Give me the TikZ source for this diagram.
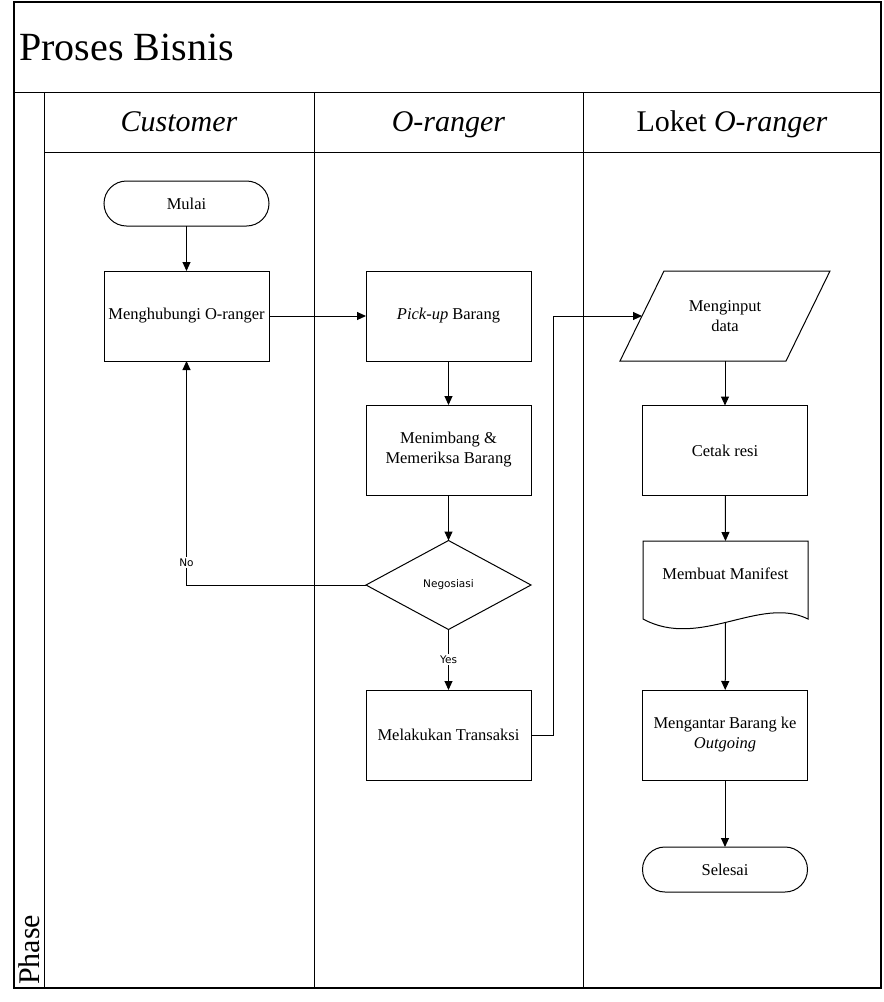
\documentclass[tikz,border=0pt]{standalone}
\usepackage{fontspec}
\setmainfont{Liberation Serif}
\newfontfamily\tagfamily{DejaVu Sans}
\usetikzlibrary{arrows.meta}
\usetikzlibrary{positioning}
\usetikzlibrary{shapes.geometric}
\newcommand\boxfont{\fontsize{16.5}{20}\selectfont}
\newcommand\headfont{\fontsize{30}{34}\selectfont}
\newcommand\tagfont{\tagfamily\fontsize{10.5}{12}\selectfont}
\tikzset{
    lane/.style={rectangle, draw=black, line width=1pt, inner sep=0pt, outer sep=0pt},
    lanehead/.style={lane, minimum height=60, font=\headfont,
        text height=22pt, text depth=3pt},
    process/.style={rectangle, draw=black, line width=1pt, outer sep=0pt,
        minimum width=165, minimum height=90, align=center, font=\boxfont},
    terminal/.style={rectangle, rounded corners=22.5pt, draw=black, line width=1pt,
        outer sep=0pt, minimum width=165, minimum height=45, font=\boxfont},
    decision/.style={diamond, draw=black, line width=1pt, inner sep=0pt, outer sep=0pt,
        minimum width=165, minimum height=89, font=\tagfont},
    flow/.style={-{Triangle[length=9pt, width=8pt]}, line width=1pt},
    flowlabel/.style={fill=white, inner sep=1.5pt, font=\tagfont},
}

\begin{document}
\begin{tikzpicture}[x=1pt, y=-1pt]
    \useasboundingbox (0,0) rectangle (884,1002);

    % pool and lanes
    \node (bar) at(447.5,47) [lane, minimum width=867, minimum height=90] {};
    \node (title) at(bar.west) [
        anchor=west, inner xsep=5pt,
        font=\fontsize{40}{44}\selectfont,
    ] {Proses Bisnis};
    \node (phase) at(29,540) [lane, minimum width=30, minimum height=896] {};
    \node (phasetext) at(phase.south) [
        rotate=90, anchor=west, inner xsep=3pt, font=\headfont,
    ] {Phase};

    \node (custhead) at(179,122) [lanehead, minimum width=270] {\textit{Customer}};
    \node (orhead) at(448.5,122) [lanehead, minimum width=269] {\textit{O-ranger}};
    \node (lokethead) at(732,122) [lanehead, minimum width=298] {Loket \textit{O-ranger}};
    \node (custlane) at(179,570) [lane, minimum width=270, minimum height=836] {};
    \node (orlane) at(448.5,570) [lane, minimum width=269, minimum height=836] {};
    \node (loketlane) at(732,570) [lane, minimum width=298, minimum height=836] {};
    \draw[line width=1.3pt] (bar.north west) rectangle (loketlane.south east);

    % customer
    \node (mulai) at(186.5,203.5) [terminal] {Mulai};
    \node (hubungi) at(186.5,316) [process] {Menghubungi O-ranger};

    % o-ranger
    \node (pickup) at(448.5,316) [process] {\textit{Pick-up} Barang};
    \node (timbang) [process, below=44pt of pickup] {Menimbang \&\\Memeriksa Barang};
    \node (nego) at(448.5,585) [decision] {Negosiasi};
    \node (trans) at(448.5,735) [process] {Melakukan Transaksi};

    % loket
    \node (input) at(725,316) [
        rectangle, outer sep=0pt,
        minimum width=166, minimum height=90,
        align=center, font=\boxfont,
    ] {Menginput\\data};
    \draw[line width=1pt]
        ([xshift=22pt]input.north west) -- ([xshift=22pt]input.north east)
        -- ([xshift=-22pt]input.south east) -- ([xshift=-22pt]input.south west) -- cycle;
    \node (cetak) at(725,450.5) [process] {Cetak resi};
    \node (manifest) at(725.5,574) [
        rectangle, outer sep=0pt,
        minimum width=165, minimum height=66, font=\boxfont,
    ] {Membuat Manifest};
    \draw[line width=1pt]
        (manifest.north west) -- (manifest.north east)
        -- ([yshift=-12pt]manifest.south east)
        .. controls +(-48,-24) and +(57,31) .. ([yshift=-12pt]manifest.south west)
        -- cycle;
    \coordinate (manifesttail) at ([yshift=-15pt]manifest.south);
    \node (antar) at(725,735) [process] {Mengantar Barang ke\\\textit{Outgoing}};
    \node (selesai) at(725,869.5) [terminal] {Selesai};

    % arrows
    \draw[flow] (mulai) -- (hubungi);
    \draw[flow] (hubungi) -- (pickup);
    \draw[flow] (pickup) -- (timbang);
    \draw[flow] (timbang) -- (nego);
    \draw[flow] (nego) -- node[flowlabel] {Yes} (trans);
    \draw[flow] (nego.west) -| node[flowlabel, pos=0.55] {No} (hubungi.south);
    \draw[flow] (trans.east) -- ++(22,0) |- (input.west);
    \draw[flow] (input) -- (cetak);
    \draw[flow] (cetak) -- (manifest.north);
    \draw[flow] (manifesttail) -- (antar);
    \draw[flow] (antar) -- (selesai);
\end{tikzpicture}
\end{document}
